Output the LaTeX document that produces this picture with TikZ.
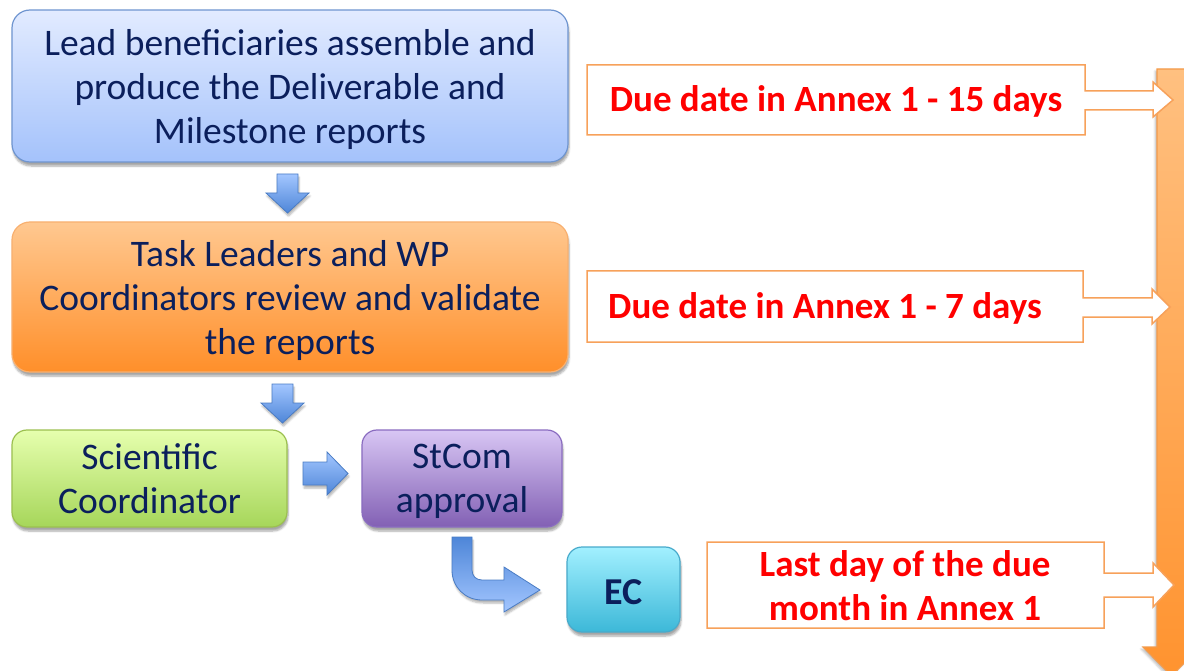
\documentclass[tikz,border=0pt]{standalone}
\usepackage{fontspec}
\setmainfont{Carlito}
\usetikzlibrary{shadows.blur,calc}
\definecolor{navy}{HTML}{0B1F5C}
\definecolor{callred}{HTML}{FF0000}
\definecolor{callorange}{HTML}{F7A15A}
\definecolor{bigtop}{HTML}{FFC080}
\definecolor{bigbot}{HTML}{FF932F}
\definecolor{bigedge}{HTML}{F39A4A}
\definecolor{arrtop}{HTML}{A3C6FF}
\definecolor{arrbot}{HTML}{4E86D8}
\definecolor{arredge}{HTML}{4A7CC4}
\definecolor{b1top}{HTML}{E2EBFF}\definecolor{b1bot}{HTML}{A4C2FB}\definecolor{b1edge}{HTML}{6F95D0}
\definecolor{b2top}{HTML}{FFC890}\definecolor{b2bot}{HTML}{FF8F2A}\definecolor{b2edge}{HTML}{F8B070}
\definecolor{b3top}{HTML}{E6FFAE}\definecolor{b3bot}{HTML}{A6D65A}\definecolor{b3edge}{HTML}{9CC050}
\definecolor{b4top}{HTML}{D8C6F4}\definecolor{b4bot}{HTML}{8260B4}\definecolor{b4edge}{HTML}{8A6CC0}
\definecolor{b5top}{HTML}{A2F0FF}\definecolor{b5bot}{HTML}{3CB8D8}\definecolor{b5edge}{HTML}{48AACB}
\tikzset{
  box/.style={rounded corners=18pt, inner sep=0pt, line width=1.2pt, anchor=center,
    blur shadow={shadow xshift=1pt, shadow yshift=-4pt, shadow blur steps=6, shadow opacity=35}},
  boxtext/.style={inner sep=0pt, align=center, text=navy, font=\fontsize{37.5}{44}\selectfont},
  bluebox/.style={box, draw=b1edge, top color=b1top, bottom color=b1bot},
  orangebox/.style={box, draw=b2edge, top color=b2top, bottom color=b2bot},
  greenbox/.style={box, draw=b3edge, top color=b3top, bottom color=b3bot, rounded corners=15pt},
  purplebox/.style={box, draw=b4edge, top color=b4top, bottom color=b4bot, rounded corners=15pt},
  cyanbox/.style={box, draw=b5edge, top color=b5top, bottom color=b5bot, rounded corners=15pt},
  calltext/.style={inner sep=0pt, align=center, text=callred,
    font=\bfseries\fontsize{37}{44}\selectfont},
  callline/.style={draw=callorange, line width=1.5pt, fill=white},
  bluearrow/.style={draw=arredge, line width=0.8pt, top color=arrtop, bottom color=arrbot,
    blur shadow={shadow xshift=1pt, shadow yshift=-3pt, shadow blur steps=5, shadow opacity=30}},
}
\begin{document}
\begin{tikzpicture}[x=1pt,y=-1pt]
\useasboundingbox (0,0) rectangle (1184,671);
% main process boxes
\node[bluebox, minimum width=556pt, minimum height=152pt] (lead) at (290,86) {};
\node[boxtext] (leadtxt) at ($(lead.center)+(0,3.5)$)
  {Lead beneficiaries assemble and\\produce the Deliverable and\\Milestone reports};
\node[orangebox, minimum width=556pt, minimum height=150pt] (task) at (290,297) {};
\node[boxtext] (tasktxt) at ($(task.center)+(0,4)$)
  {Task Leaders and WP\\Coordinators review and validate\\the reports};
\node[greenbox, minimum width=275pt, minimum height=97pt] (sci) at (149.5,478.5) {};
\node[boxtext] (scitxt) at (sci.center) {Scientific\\Coordinator};
\node[purplebox, minimum width=200pt, minimum height=97pt] (stcom) at (462,478.5) {};
\node[boxtext] (stcomtxt) at ($(stcom.center)+(0,3)$) {StCom\\approval};
\node[cyanbox, minimum width=113pt, minimum height=85pt] (ec) at (623.5,589.5) {};
\node[boxtext, font=\bfseries\fontsize{38}{44}\selectfont] (ectxt) at ($(ec.center)+(0,3)$) {EC};
% block arrows between boxes
\path[bluearrow] (277,174) -- (298,174) -- (298,193) -- (309,193) -- (287.5,213)
  -- (266,193) -- (277,193) -- cycle;
\path[bluearrow] (272,384) -- (293,384) -- (293,403) -- (304,403) -- (282.5,423)
  -- (261,403) -- (272,403) -- cycle;
\path[bluearrow] (303,462) -- (327,462) -- (327,452) -- (348,473.5) -- (327,495)
  -- (327,485) -- (303,485) -- cycle;
\path[bluearrow, top color=arrbot, bottom color=arrtop] (452,537) -- (472,537) -- (472,570)
  .. controls (472,576) and (476,580) .. (482,580) -- (504,580) -- (504,567)
  -- (540,590) -- (504,612) -- (504,600) -- (482,600)
  .. controls (465,600) and (452,587) .. (452,570) -- cycle;
% big timeline arrow
\path[draw=bigedge, line width=1.2pt, top color=bigtop, bottom color=bigbot,
  blur shadow={shadow xshift=-2pt, shadow yshift=-2pt, shadow blur steps=5, shadow opacity=25}]
  (1157,69) -- (1186,69) -- (1186,647) -- (1200,647) -- (1171.5,676) -- (1143,647)
  -- (1157,647) -- cycle;
% callouts
\path[callline] (587,65) -- (1085,65) -- (1085,91) -- (1153,91) -- (1153,82) -- (1173,100)
  -- (1153,117) -- (1153,110) -- (1085,110) -- (1085,135) -- (587,135) -- cycle;
\node[calltext] (c1) at (836,101) {Due date in Annex 1 - 15 days};
\path[callline] (587,271) -- (1083,271) -- (1083,298) -- (1152,298) -- (1152,289) -- (1170,307)
  -- (1152,324) -- (1152,317) -- (1083,317) -- (1083,342) -- (587,342) -- cycle;
\node[calltext] (c2) at (825,308) {Due date in Annex 1 - 7 days};
\path[callline] (707,542) -- (1104,542) -- (1104,573) -- (1153,573) -- (1153,563) -- (1174,585)
  -- (1153,607) -- (1153,597) -- (1104,597) -- (1104,628) -- (707,628) -- cycle;
\node[calltext] (c3) at (905,586) {Last day of the due\\month in Annex 1};
\end{tikzpicture}
\end{document}
